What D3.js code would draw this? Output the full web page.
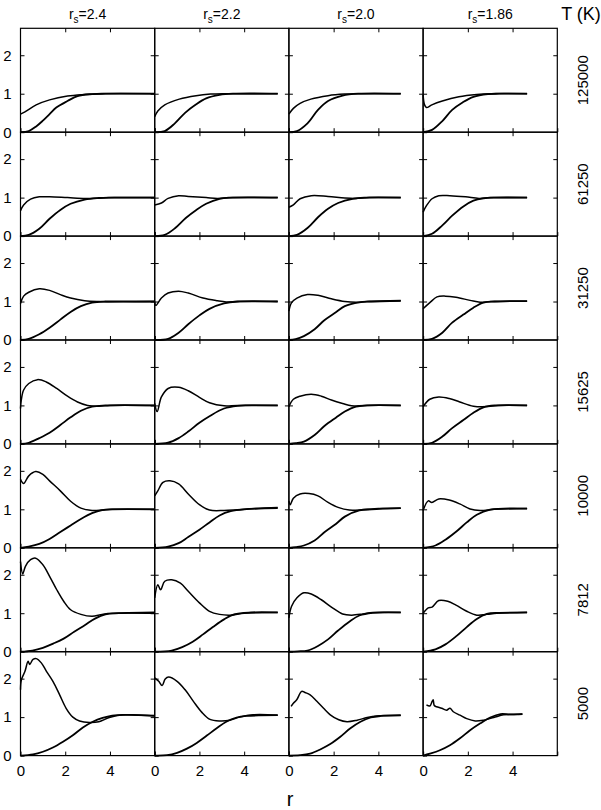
<!DOCTYPE html>
<html><head><meta charset="utf-8">
<script src="https://cdn.jsdelivr.net/npm/d3@7"></script>
<style>
body{margin:0;background:#fff;}
svg text{font-family:"Liberation Sans",Arial,Helvetica,sans-serif;fill:#000;}
</style></head>
<body><svg id="c" width="601" height="810"></svg>
<script>
// ---------- DATA ----------
const rsLabels = ["2.4","2.2","2.0","1.86"];
const tempLabels = ["125000","61250","31250","15625","10000","7812","5000"];
const xTicks = [0,2,4];
const yTicks = [0,1,2];
const xDomain = [0,6];
const yDomain = [0,2.7];

// upper curves (r, g) per row, four panels each (rs = 2.4, 2.2, 2.0, 1.86)
const upper125000 = [
 [[0,0.47],[0.2,0.53],[0.7,0.71],[1.3,0.84],[2.1,0.94],[2.9,0.98],[3.6,1.0],[6.0,1.0]],
 [[0,0.4],[0.14,0.55],[0.45,0.71],[1.1,0.86],[1.85,0.95],[2.5,0.99],[3.2,1.0],[5.5,1.0]],
 [[0,0.47],[0.2,0.62],[0.5,0.75],[0.98,0.86],[1.75,0.95],[2.5,0.99],[3.2,1.0],[5.0,1.0]],
 [[0,0.97],[0.06,0.72],[0.15,0.64],[0.39,0.71],[0.86,0.81],[1.6,0.92],[2.4,0.98],[3.0,1.0],[4.65,1.0]]
];
const lower125000 = [
 [[0,0],[0.37,0.03],[0.7,0.15],[1.0,0.30],[1.3,0.47],[1.6,0.64],[2.1,0.81],[2.55,0.94],[3.2,0.99],[3.8,1.0],[6.0,1.0]],
 [[0,0],[0.45,0.03],[0.9,0.23],[1.37,0.51],[1.84,0.72],[2.3,0.88],[2.9,0.97],[3.5,1.0],[5.5,1.0]],
 [[0,0],[0.36,0.03],[0.83,0.23],[1.3,0.58],[1.75,0.81],[2.4,0.95],[3.1,1.0],[5.0,1.0]],
 [[0,0],[0.4,0.06],[0.86,0.29],[1.3,0.58],[1.78,0.78],[2.25,0.92],[2.9,0.99],[3.4,1.0],[4.65,1.0]]
];
const upper61250 = [
 [[0,0.66],[0.14,0.81],[0.45,0.96],[0.84,1.02],[1.3,1.02],[2.1,1.0],[2.9,0.98],[3.6,0.99],[4.2,1.0],[6.0,1.0]],
 [[0,0.81],[0.3,0.86],[0.6,0.98],[1.07,1.05],[1.5,1.03],[2.3,1.0],[2.8,0.98],[3.5,1.0],[5.5,1.0]],
 [[0,0.75],[0.2,0.81],[0.5,0.97],[1.0,1.05],[1.75,1.03],[2.5,0.99],[3.0,0.98],[3.6,1.0],[5.0,1.0]],
 [[0,0.62],[0.15,0.79],[0.4,0.97],[0.7,1.05],[1.2,1.05],[1.9,1.02],[2.5,0.98],[3.0,1.0],[4.65,1.0]]
];
const lower61250 = [
 [[0,0],[0.37,0.03],[0.84,0.19],[1.3,0.45],[1.78,0.68],[2.24,0.84],[2.87,0.95],[3.5,0.99],[4.0,1.0],[6.0,1.0]],
 [[0,0],[0.45,0.03],[0.92,0.21],[1.39,0.47],[1.86,0.68],[2.3,0.84],[2.9,0.97],[3.4,1.0],[5.5,1.0]],
 [[0,0],[0.36,0.03],[0.83,0.21],[1.3,0.49],[1.75,0.71],[2.2,0.86],[2.85,0.97],[3.4,1.0],[5.0,1.0]],
 [[0,0],[0.4,0.06],[0.86,0.28],[1.3,0.53],[1.8,0.77],[2.25,0.92],[2.7,0.98],[3.2,1.0],[4.65,1.0]]
];
const upper31250 = [
 [[0,0.95],[0.14,1.14],[0.37,1.24],[0.84,1.33],[1.3,1.29],[1.78,1.18],[2.24,1.09],[2.87,1.02],[3.5,1.0],[6.0,1.0]],
 [[0,1.0],[0.05,0.9],[0.3,1.09],[0.6,1.22],[1.07,1.27],[1.5,1.22],[2.16,1.09],[2.8,1.02],[3.2,0.99],[3.8,1.0],[5.5,1.0]],
 [[0,0.75],[0.12,0.97],[0.36,1.09],[0.83,1.18],[1.3,1.16],[1.9,1.07],[2.5,1.0],[3.0,0.98],[3.5,1.0],[5.0,1.02]],
 [[0,0.81],[0.3,0.97],[0.62,1.12],[1.0,1.14],[1.47,1.11],[2.1,1.03],[2.55,0.98],[3.0,1.0],[4.65,1.01]]
];
const lower31250 = [
 [[0,0],[0.37,0.03],[0.84,0.15],[1.3,0.32],[1.78,0.53],[2.24,0.73],[2.7,0.88],[3.2,0.97],[3.8,1.0],[6.0,1.0]],
 [[0,0],[0.6,0.03],[1.07,0.19],[1.5,0.41],[2.0,0.64],[2.45,0.81],[3.1,0.95],[3.7,1.0],[5.5,1.0]],
 [[0,0],[0.3,0.02],[0.67,0.1],[1.15,0.28],[1.6,0.52],[2.1,0.72],[2.5,0.88],[3.15,0.98],[3.6,1.0],[5.0,1.02]],
 [[0,0],[0.4,0.03],[0.86,0.19],[1.3,0.45],[1.8,0.66],[2.25,0.84],[2.7,0.97],[3.2,1.0],[4.65,1.01]]
];
const upper15625 = [
 [[0,0.92],[0.03,1.12],[0.14,1.40],[0.37,1.57],[0.76,1.67],[1.15,1.61],[1.62,1.44],[2.1,1.24],[2.55,1.09],[3.0,1.0],[3.5,0.98],[4.0,1.0],[6.0,1.0]],
 [[0,1.05],[0.11,0.84],[0.3,1.22],[0.6,1.44],[1.07,1.47],[1.5,1.38],[2.0,1.21],[2.45,1.07],[3.1,0.99],[3.7,1.0],[5.5,1.0]],
 [[0,0.97],[0.2,1.16],[0.5,1.24],[1.0,1.29],[1.45,1.24],[1.9,1.14],[2.4,1.05],[2.8,0.99],[3.4,1.0],[5.0,1.0]],
 [[0,0.97],[0.3,1.16],[0.7,1.22],[1.17,1.18],[1.64,1.09],[2.25,0.98],[2.9,0.97],[3.35,1.0],[4.65,1.0]]
];
const lower15625 = [
 [[0,0],[0.37,0.03],[0.84,0.15],[1.3,0.29],[1.78,0.49],[2.24,0.69],[2.7,0.86],[3.2,0.97],[3.8,1.0],[6.0,1.0]],
 [[0,0],[0.6,0.03],[1.07,0.15],[1.5,0.32],[2.0,0.55],[2.45,0.72],[3.1,0.92],[3.7,0.99],[4.2,1.0],[5.5,1.0]],
 [[0,0],[0.3,0.02],[0.67,0.06],[1.15,0.23],[1.6,0.47],[2.1,0.68],[2.5,0.84],[3.0,0.97],[3.5,1.0],[5.0,1.0]],
 [[0,0],[0.4,0.03],[0.86,0.19],[1.3,0.41],[1.8,0.62],[2.25,0.81],[2.7,0.95],[3.2,1.0],[4.65,1.0]]
];
const upper10000 = [
 [[0,1.78],[0.14,1.67],[0.37,1.87],[0.68,1.98],[1.0,1.91],[1.3,1.74],[1.78,1.48],[2.24,1.21],[2.7,1.03],[3.2,0.97],[3.65,0.98],[4.1,1.0],[6.0,1.0]],
 [[0,1.35],[0.14,1.48],[0.37,1.70],[0.68,1.74],[1.07,1.66],[1.5,1.40],[2.0,1.12],[2.45,0.98],[3.1,0.97],[3.7,0.99],[4.5,1.02],[5.5,1.05]],
 [[0,1.22],[0.06,1.12],[0.2,1.29],[0.5,1.40],[0.9,1.41],[1.3,1.35],[1.75,1.18],[2.2,1.05],[2.7,0.98],[3.3,0.99],[4.0,1.02],[5.0,1.03]],
 [[0,0.97],[0.23,1.22],[0.39,1.18],[0.7,1.27],[1.17,1.24],[1.64,1.14],[2.1,1.01],[2.55,0.97],[3.2,1.0],[4.65,1.02]]
];
const lower10000 = [
 [[0,0],[0.37,0.03],[0.84,0.1],[1.3,0.23],[1.78,0.41],[2.24,0.58],[2.7,0.75],[3.2,0.90],[3.65,0.98],[4.1,1.0],[6.0,1.0]],
 [[0,0],[0.6,0.03],[1.07,0.12],[1.5,0.28],[2.0,0.47],[2.45,0.66],[2.9,0.84],[3.4,0.95],[4.0,1.0],[5.5,1.03]],
 [[0,0],[0.3,0.02],[0.67,0.06],[1.15,0.19],[1.6,0.41],[2.1,0.62],[2.5,0.81],[3.15,0.97],[3.7,1.0],[5.0,1.03]],
 [[0,0],[0.55,0.06],[1.0,0.21],[1.5,0.43],[1.95,0.66],[2.4,0.86],[3.0,0.99],[4.65,1.02]]
];
const upper7812 = [
 [[0,2.34],[0.1,2.02],[0.22,2.22],[0.45,2.39],[0.68,2.43],[1.0,2.26],[1.3,1.96],[1.62,1.61],[1.93,1.31],[2.24,1.09],[2.7,0.97],[3.2,0.92],[3.65,0.97],[4.1,1.0],[6.0,1.0]],
 [[0,1.40],[0.14,1.74],[0.26,1.61],[0.45,1.83],[0.76,1.87],[1.15,1.78],[1.5,1.57],[2.0,1.27],[2.45,1.05],[2.9,0.97],[3.4,0.95],[4.0,1.0],[5.5,1.02]],
 [[0,0.88],[0.12,1.18],[0.36,1.40],[0.67,1.53],[1.0,1.50],[1.45,1.35],[1.9,1.16],[2.4,0.98],[2.8,0.95],[3.3,0.98],[3.75,1.02],[5.0,1.02]],
 [[0,1.0],[0.23,1.14],[0.4,1.16],[0.7,1.33],[1.1,1.31],[1.47,1.21],[1.95,1.05],[2.4,0.95],[2.85,0.97],[3.3,1.0],[4.65,1.02]]
];
const lower7812 = [
 [[0,0],[0.53,0.03],[1.0,0.1],[1.46,0.21],[1.93,0.34],[2.4,0.52],[2.87,0.69],[3.33,0.86],[3.8,0.97],[4.4,1.0],[6.0,1.02]],
 [[0,0],[0.76,0.03],[1.23,0.12],[1.7,0.26],[2.16,0.45],[2.6,0.64],[3.1,0.84],[3.55,0.97],[4.3,1.02],[5.5,1.02]],
 [[0,0],[0.4,0.01],[0.83,0.03],[1.3,0.15],[1.75,0.32],[2.2,0.55],[2.7,0.78],[3.15,0.94],[3.75,1.01],[5.0,1.02]],
 [[0,0],[0.55,0.06],[1.0,0.19],[1.5,0.41],[1.95,0.64],[2.4,0.85],[2.85,0.98],[3.4,1.01],[4.65,1.02]]
];
const upper5000 = [
 [[0,1.71],[0.04,1.97],[0.2,2.19],[0.34,2.45],[0.41,2.37],[0.56,2.5],[0.71,2.52],[0.93,2.41],[1.16,2.19],[1.45,1.93],[1.75,1.58],[2.04,1.23],[2.34,1.0],[2.64,0.9],[3.08,0.86],[3.5,0.88],[3.97,0.99],[4.56,1.06],[5.0,1.06],[6.0,1.03]],
 [[0,2.02],[0.18,1.93],[0.33,1.82],[0.47,1.99],[0.62,2.04],[1.0,1.93],[1.36,1.71],[1.73,1.41],[2.1,1.13],[2.47,0.94],[2.92,0.90],[3.36,0.92],[3.8,1.0],[4.4,1.06],[5.5,1.05]],
 [[0.1,1.28],[0.2,1.36],[0.35,1.45],[0.57,1.67],[0.72,1.64],[0.95,1.58],[1.25,1.41],[1.55,1.23],[1.85,1.06],[2.23,0.93],[2.6,0.88],[3.05,0.92],[3.5,0.99],[3.95,1.03],[5.0,1.04]],
 [[0.15,1.32],[0.3,1.29],[0.4,1.4],[0.45,1.45],[0.5,1.3],[0.6,1.27],[0.83,1.23],[1.05,1.18],[1.2,1.23],[1.35,1.14],[1.65,1.05],[1.95,0.96],[2.33,0.9],[2.7,0.92],[3.16,0.99],[3.6,1.06],[4.06,1.07],[4.44,1.08]]
];
const lower5000 = [
 [[0,0],[0.56,0.03],[1.0,0.1],[1.45,0.21],[1.9,0.36],[2.34,0.53],[2.79,0.73],[3.23,0.88],[3.67,0.98],[4.1,1.04],[4.7,1.06],[6.0,1.04]],
 [[0,0],[0.55,0.01],[1.0,0.07],[1.44,0.18],[1.88,0.33],[2.33,0.52],[2.77,0.71],[3.2,0.88],[3.66,0.99],[4.1,1.03],[5.5,1.05]],
 [[0,0],[0.5,0.01],[0.95,0.05],[1.4,0.16],[1.85,0.30],[2.3,0.49],[2.75,0.71],[3.2,0.88],[3.66,0.99],[4.1,1.03],[5.0,1.05]],
 [[0,0],[0.3,0.05],[0.75,0.14],[1.2,0.27],[1.65,0.45],[2.1,0.66],[2.56,0.84],[3.0,0.99],[3.46,1.08],[3.9,1.07],[4.44,1.08]]
];
const upperRows = [upper125000, upper61250, upper31250, upper15625, upper10000, upper7812, upper5000];
const lowerRows = [lower125000, lower61250, lower31250, lower15625, lower10000, lower7812, lower5000];

// ---------- LAYOUT ----------
const padLeft = 20.5, padTop = 28.3, colW = 134.2, rowH = 103.9;
const svg = d3.select("#c");
const x = d3.scaleLinear().domain(xDomain).range([0, colW]);
const y = d3.scaleLinear().domain(yDomain).range([rowH, 0]);
const line = d3.line().x(d => x(d[0])).y(d => y(d[1])).curve(d3.curveCatmullRom.alpha(0.5));
const nRows = tempLabels.length, nCols = rsLabels.length;

for (let i = 0; i < nRows; i++) {
  for (let j = 0; j < nCols; j++) {
    const g = svg.append("g").attr("transform", `translate(${padLeft + j*colW},${padTop + i*rowH})`);
    g.append("path").datum(lowerRows[i][j]).attr("d", line)
      .attr("fill","none").attr("stroke","#000").attr("stroke-width",1.8);
    g.append("path").datum(upperRows[i][j]).attr("d", line)
      .attr("fill","none").attr("stroke","#000").attr("stroke-width",1.5);
    const axB = d3.axisBottom(x).tickValues([0,2,4,6]).tickSizeInner(-4).tickSizeOuter(0).tickPadding(10)
      .tickFormat(d => (i === nRows-1 && xTicks.includes(d)) ? d3.format("d")(d) : "");
    const axT = d3.axisTop(x).tickValues([2,4]).tickSizeInner(-4).tickSizeOuter(0).tickFormat("");
    const axL = d3.axisLeft(y).tickValues(yTicks).tickSizeInner(-4).tickSizeOuter(0).tickPadding(9)
      .tickFormat(d => j === 0 ? d3.format("d")(d) : "");
    const axR = d3.axisRight(y).tickValues([1,2]).tickSizeInner(-4).tickSizeOuter(0).tickFormat("");
    [[axB,`translate(0,${rowH})`],[axT,null],[axL,null],[axR,`translate(${colW},0)`]].forEach(([ax,tr]) => {
      const a = g.append("g").call(ax);
      if (tr) a.attr("transform", tr);
      a.select(".domain").remove();
      a.selectAll("line").attr("stroke","#000").attr("stroke-width",1);
      a.selectAll("text").attr("font-size",15).attr("font-family",null);
    });
    g.append("rect").attr("width",colW).attr("height",rowH)
      .attr("fill","none").attr("stroke","#000").attr("stroke-width",1.2);
  }
}

rsLabels.forEach((lab, j) => {
  const t = svg.append("text").attr("x", padLeft + j*colW + colW/2).attr("y", 19)
    .attr("text-anchor","middle").attr("font-size",14);
  t.append("tspan").text("r");
  t.append("tspan").attr("font-size",10).attr("dy",4).text("s");
  t.append("tspan").attr("dy",-4).text("=" + lab);
});
svg.append("text").attr("x",581).attr("y",20).attr("text-anchor","middle").attr("font-size",18).text("T (K)");
tempLabels.forEach((lab, i) => {
  const cy = padTop + i*rowH + rowH/2;
  svg.append("text").attr("transform",`translate(588,${cy}) rotate(-90)`)
    .attr("text-anchor","middle").attr("font-size",15).text(lab);
});
svg.append("text").attr("x", 290).attr("y", 806).attr("text-anchor","middle").attr("font-size",20).text("r");
</script></body></html>
